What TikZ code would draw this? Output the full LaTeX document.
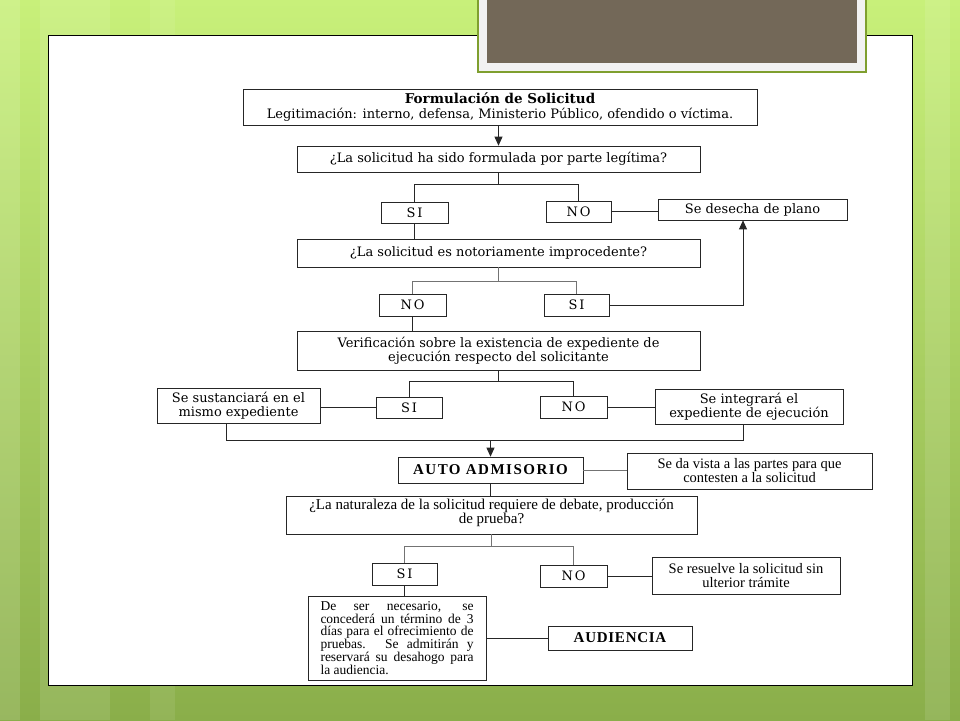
\documentclass[tikz,border=0pt]{standalone}
\usepackage{fontspec}
\setmainfont{DejaVu Serif}
\newfontfamily\tms{Liberation Serif}
\usetikzlibrary{arrows.meta}
\definecolor{gtop}{HTML}{C8F07A}
\definecolor{gbot}{HTML}{8AAE4A}
\definecolor{brownhdr}{HTML}{736858}
\definecolor{olivefr}{HTML}{7F9F2F}
\tikzset{
  box/.style={draw=black!85, fill=white, line width=0.7pt, inner sep=1pt, align=center,
    font=\fontsize{13}{14}\selectfont},
  yn/.style={box, font=\addfontfeature{LetterSpace=15}\fontsize{13}{14}\selectfont},
  tbox/.style={box, font=\tms\fontsize{14.5}{14}\selectfont},
  conn/.style={draw=black!85, line width=0.8pt},
  gconn/.style={draw=black!55, line width=0.9pt},
  arr/.style={conn, -{Triangle[length=9pt,width=8pt]}},
}
\begin{document}
\begin{tikzpicture}[x=1pt,y=-1pt]
\useasboundingbox (0,0) rectangle (960,720);
% background
\shade[top color=gtop, bottom color=gbot] (0,0) rectangle (960,720);
\fill[white, opacity=0.12] (0,0) rectangle (20,720);
\fill[white, opacity=0.10] (40,0) rectangle (110,720);
\fill[white, opacity=0.08] (150,0) rectangle (175,720);
\fill[white, opacity=0.10] (925,0) rectangle (950,720);
% slide
\draw[fill=white, line width=1pt] (48,35) rectangle (912,685);
% header block
\draw[fill=white!95!black, draw=olivefr, line width=1.5pt] (478,-2) rectangle (866,72);
\fill[brownhdr] (487,-2) rectangle (857,63);

% nodes
\node[box, minimum width=514, minimum height=36, font=\fontsize{13}{14.5}\selectfont] (form) at (500,107)
  {{\bfseries\fontsize{13.5}{14.5}\selectfont Formulación de Solicitud}\\Legitimación: interno, defensa, Ministerio Público, ofendido o víctima.};
\node[box, minimum width=403, minimum height=26] (q1) at (498.5,159)
  {¿La solicitud ha sido formulada por parte legítima?};
\node[yn, minimum width=67, minimum height=21] (si1) at (414.5,212.5) {SI};
\node[yn, minimum width=65, minimum height=21] (no1) at (578.5,211.5) {NO};
\node[box, minimum width=189, minimum height=21] (des) at (752.5,209.5) {Se desecha de plano};
\node[box, minimum width=403, minimum height=28] (q2) at (498.5,253)
  {¿La solicitud es notoriamente improcedente?};
\node[yn, minimum width=67, minimum height=22] (no2) at (412.5,305) {NO};
\node[yn, minimum width=65, minimum height=22] (si2) at (576.5,305) {SI};
\node[box, minimum width=403, minimum height=39] (ver) at (498.5,350.5)
  {Verificación sobre la existencia de expediente de\\ejecución respecto del solicitante};
\node[box, minimum width=163, minimum height=35] (sus) at (238.5,405.5)
  {Se sustanciará en el\\mismo expediente};
\node[yn, minimum width=66, minimum height=21] (si3) at (409,407.5) {SI};
\node[yn, minimum width=67, minimum height=22] (no3) at (573.5,407) {NO};
\node[box, minimum width=188, minimum height=35] (int) at (749,406.5)
  {Se integrará el\\expediente de ejecución};
\node[tbox, minimum width=185, minimum height=26, font=\tms\bfseries\addfontfeature{LetterSpace=10}\fontsize{15}{15}\selectfont] (auto) at (490.5,470)
  {AUTO ADMISORIO};
\node[tbox, minimum width=245, minimum height=36] (vis) at (749.5,471)
  {Se da vista a las partes para que\\contesten a la solicitud};
\node[tbox, minimum width=411, minimum height=38] (q4) at (491.5,515) {};
\node[tbox, draw=none, fill=none, anchor=north, inner sep=0pt, font=\tms\fontsize{15}{14}\selectfont] (q4t) at ([yshift=-3]q4.north)
  {¿La naturaleza de la solicitud requiere de debate, producción\\de prueba?};
\node[yn, minimum width=65, minimum height=22] (si4) at (404.5,574) {SI};
\node[yn, minimum width=67, minimum height=22] (no4) at (573.5,576) {NO};
\node[tbox, minimum width=188, minimum height=37] (res) at (746,575.5)
  {Se resuelve la solicitud sin\\ulterior trámite};
\node[tbox, minimum width=178, minimum height=84, align=left, font=\tms\fontsize{13.5}{12.8}\selectfont] (ser) at (397,638)
  {\makebox[153pt][s]{De ser necesario, se}\\
   \makebox[153pt][s]{concederá un término de 3}\\
   \makebox[153pt][s]{días para el ofrecimiento de}\\
   \makebox[153pt][s]{pruebas. Se admitirán y}\\
   \makebox[153pt][s]{reservará su desahogo para}\\
   la audiencia.};
\node[tbox, minimum width=144, minimum height=24, font=\tms\bfseries\addfontfeature{LetterSpace=5}\fontsize{15}{15}\selectfont] (aud) at (620,638)
  {AUDIENCIA};

% helper coordinates
\coordinate (up) at (743,305);
\coordinate (jl) at (226,440);
\coordinate (jr) at (743,440);

% connectors
\draw[arr] (form.south -| q1.north) -- (q1.north);
\draw[conn] (q1.south) -- ++(0,12) -| (si1.north);
\draw[conn] (q1.south) -- ++(0,12) -| (no1.north);
\draw[conn] (no1.east) -- (des.west |- no1.east);
\draw[conn] (si1.south) -- (si1.south |- q2.north);
\draw[gconn] (q2.south) -- ++(0,14) -| (no2.north);
\draw[gconn] (q2.south) -- ++(0,14) -| (si2.north);
\draw[arr] (si2.east) -- (up) -- (up |- des.south);
\draw[conn] (no2.south) -- (no2.south |- ver.north);
\draw[conn] (ver.south) -- ++(0,11) -| (si3.north);
\draw[conn] (ver.south) -- ++(0,11) -| (no3.north);
\draw[conn] (si3.west) -- (sus.east |- si3.west);
\draw[conn] (no3.east) -- (int.west |- no3.east);
\draw[conn] (sus.south -| jl) -- (jl) -- (jr) -- (int.south -| jr);
\draw[arr] (auto.north |- jl) -- (auto.north);
\draw[gconn] (auto.east) -- (vis.west |- auto.east);
\draw[conn] (auto.south) -- (auto.south |- q4.north);
\draw[gconn] (q4.south) -- ++(0,12) -| (si4.north);
\draw[gconn] (q4.south) -- ++(0,12) -| (no4.north);
\draw[conn] (no4.east) -- (res.west |- no4.east);
\draw[conn] (si4.south) -- (si4.south |- ser.north);
\draw[conn] (ser.east) -- (aud.west);
\end{tikzpicture}
\end{document}
